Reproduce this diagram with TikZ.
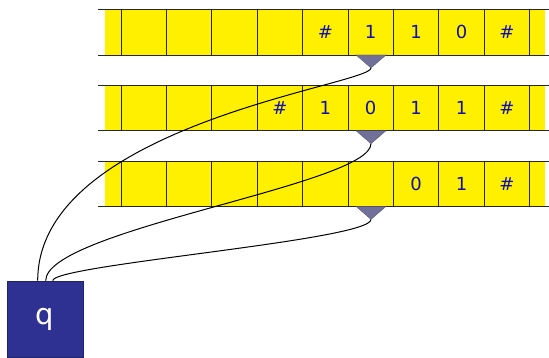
\documentclass[tikz,border=0pt]{standalone}
\usepackage{fontspec}
\setsansfont{DejaVu Sans}
\definecolor{tapeyellow}{RGB}{255,240,0}
\definecolor{symblue}{RGB}{15,15,170}
\definecolor{headgray}{RGB}{112,112,152}
\definecolor{qblue}{RGB}{46,49,146}
\tikzset{
  tapeline/.style={black!85, line width=0.7pt},
  sym/.style={text=symblue, font=\sffamily\fontsize{18}{18}\selectfont, inner sep=0pt, anchor=base},
  headmark/.style={fill=headgray, draw=headgray!70!black, line width=0.3pt},
  wire/.style={black, line width=1pt},
  ctrlbox/.style={fill=qblue, draw=qblue!70!black, line width=0.6pt, minimum width=76pt, minimum height=76pt,
    text=white, font=\sffamily\fontsize{29}{29}\selectfont, inner sep=0pt},
}
\begin{document}
\begin{tikzpicture}[x=1pt,y=1pt]
\useasboundingbox (0,0) rectangle (549,357);
% the three tapes with their heads
\foreach \yb [count=\i] in {302,226.3,150.6} {
  \fill[tapeyellow] (105,\yb) rectangle (545,\yb+45.5);
  \draw[tapeline] (98,\yb) -- (549,\yb) (98,\yb+45.5) -- (549,\yb+45.5);
  \foreach \k in {0,...,9}
    \draw[tapeline] (121+45.4*\k,\yb) -- ++(0,45.5);
  \draw[headmark] (356,\yb) -- (386,\yb) -- (371,\yb-13) -- cycle;
  \coordinate (h\i) at (371,\yb-13);
}
% tape contents
\foreach \k/\s in {5/\#,6/1,7/1,8/0,9/\#}
  \node[sym] (a\k) at (98.3+45.4*\k,318) {\s};
\foreach \k/\s in {4/\#,5/1,6/0,7/1,8/1,9/\#}
  \node[sym] (b\k) at (98.3+45.4*\k,242.3) {\s};
\foreach \k/\s in {7/0,8/1,9/\#}
  \node[sym] (c\k) at (98.3+45.4*\k,166.6) {\s};
% control
\node[ctrlbox] (q) at (45,38) {q};
\coordinate (q1) at ([xshift=31pt]q.north west);
\coordinate (q2) at ([xshift=39pt]q.north west);
\coordinate (q3) at ([xshift=46pt]q.north west);
\draw[wire] (h1) .. controls +(0,-17) and +(0,156) .. (q1);
\draw[wire] (h2) .. controls +(0,-41) and +(0,51) .. (q2);
\draw[wire] (h3) .. controls +(0,-21) and +(0,16) .. (q3);
\end{tikzpicture}
\end{document}
